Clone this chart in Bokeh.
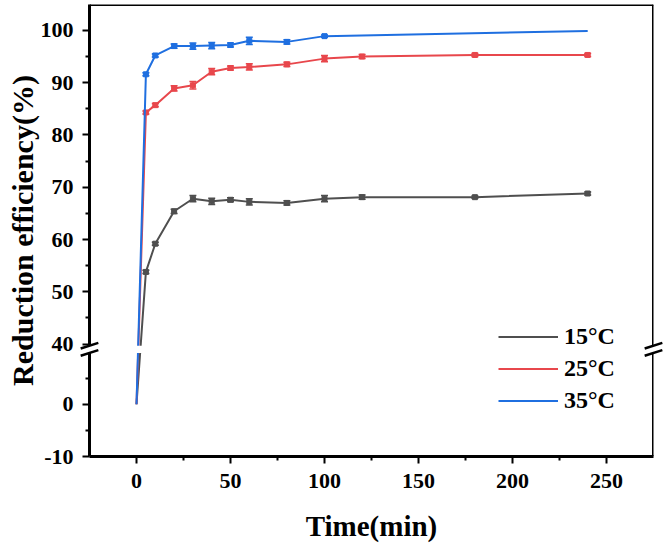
from bokeh.plotting import figure
from bokeh.models import (FixedTicker, Legend, LegendItem, Span,
                          ColumnDataSource, Whisker, Range1d, TeeHead)
from bokeh.embed import file_html
from bokeh.resources import INLINE

# ---------------- data ----------------
time = [0, 5, 10, 20, 30, 40, 50, 60, 80, 100, 120, 180, 240]
eff_15 = [0, 53.8, 59.2, 65.4, 67.8, 67.3, 67.6, 67.2, 67.0, 67.8, 68.1, 68.1, 68.8]
err_15 = [0, 0.3, 0.3, 0.4, 0.6, 0.6, 0.4, 0.6, 0.4, 0.6, 0.4, 0.2, 0.3]
eff_25 = [0, 84.3, 85.7, 88.9, 89.5, 92.1, 92.8, 93.0, 93.5, 94.6, 95.0, 95.3, 95.3]
err_25 = [0, 0.3, 0.3, 0.5, 0.7, 0.6, 0.4, 0.6, 0.4, 0.6, 0.4, 0.3, 0.3]
time_35 = [0, 5, 10, 20, 30, 40, 50, 60, 80, 100, 240]
eff_35 = [0, 91.6, 95.2, 97.0, 97.0, 97.1, 97.2, 98.0, 97.8, 98.9, 99.9]
err_35 = [0, 0.3, 0.3, 0.4, 0.6, 0.6, 0.4, 0.7, 0.4, 0.2, 0]

labels = ["15\u00b0C", "25\u00b0C", "35\u00b0C"]
colors = ["#4f4f4f", "#e8474c", "#1f6fe0"]

x_ticks = [0, 50, 100, 150, 200, 250]
x_minor = [25, 75, 125, 175, 225]
y_ticks = [-10, 0, 40, 50, 60, 70, 80, 90, 100]
y_minor = [-5, 5, 45, 55, 65, 75, 85, 95]

x_title = "Time(min)"
y_title = "Reduction efficiency(%)"

# broken y axis: lower segment [-10, 10], upper segment [40, ...]
LOW_TOP = 10
HIGH_BOTTOM = 40
GAP = 3  # display units between the segments


def disp(v):
    if v <= LOW_TOP:
        return 2 * v
    return 2 * (v - HIGH_BOTTOM) + 2 * LOW_TOP + GAP


FONT = "Liberation Serif"
X0, X1 = -25, 275
Y0, Y1 = -20, 152.9

p = figure(width=663, height=544, output_backend="svg", toolbar_location=None,
           x_range=Range1d(X0, X1), y_range=Range1d(Y0, Y1),
           min_border_left=89, min_border_right=10, min_border_top=4,
           min_border_bottom=85)
p.outline_line_color = None
p.grid.visible = False
p.background_fill_color = "white"
p.border_fill_color = "white"

items = []
series = [(time, eff_15, err_15), (time, eff_25, err_25), (time_35, eff_35, err_35)]
for (t, v, e), lab, c in zip(series, labels, colors):
    yd = [disp(a) for a in v]
    src = ColumnDataSource(dict(x=t, y=yd))
    r = p.line("x", "y", source=src, line_color=c, line_width=2)
    items.append(LegendItem(label=lab, renderers=[r]))
    mx = [a for a, b in zip(t, e) if b > 0]
    my = [disp(a) for a, b in zip(v, e) if b > 0]
    up = [disp(a + b) for a, b in zip(v, e) if b > 0]
    lo = [disp(a - b) for a, b in zip(v, e) if b > 0]
    esrc = ColumnDataSource(dict(x=mx, y=my, up=up, lo=lo))
    w = Whisker(base="x", upper="up", lower="lo", source=esrc, dimension="height",
                line_color=c, line_width=1.5,
                upper_head=TeeHead(size=7, line_color=c, line_width=1.5),
                lower_head=TeeHead(size=7, line_color=c, line_width=1.5))
    p.add_layout(w)
    p.scatter("x", "y", source=esrc, marker="square", size=5,
              fill_color=c, line_color=c)

# axes
for ax in (p.xaxis[0], p.yaxis[0]):
    ax.axis_line_width = 3
    ax.major_tick_line_width = 2
    ax.minor_tick_line_width = 2
    ax.major_tick_in = 0
    ax.major_tick_out = 7
    ax.minor_tick_in = 0
    ax.minor_tick_out = 4
    ax.major_label_text_font = FONT
    ax.major_label_text_font_style = "bold"
    ax.major_label_text_font_size = "22px"
    ax.major_label_text_color = "black"
    ax.axis_label_text_font = FONT
    ax.axis_label_text_font_style = "bold"
    ax.axis_label_text_color = "black"

p.xaxis.ticker = FixedTicker(ticks=x_ticks, minor_ticks=x_minor)
p.xaxis.major_label_standoff = 10
p.xaxis.axis_label = x_title
p.xaxis.axis_label_text_font_size = "29px"
p.xaxis.axis_label_standoff = 19

p.yaxis.ticker = FixedTicker(ticks=[disp(v) for v in y_ticks],
                             minor_ticks=[disp(v) for v in y_minor])
p.yaxis.major_label_overrides = {disp(v): str(v) for v in y_ticks}
p.yaxis.major_label_standoff = 9
p.yaxis.axis_label = y_title
p.yaxis.axis_label_text_font_size = "30px"
p.yaxis.axis_label_standoff = -1

# top and right frame lines
p.add_layout(Span(location=X1, dimension="height", line_color="black", line_width=3))
p.add_layout(Span(location=Y1, dimension="width", line_color="black", line_width=3))

# axis break decoration
BAND_LO, BAND_HI = 19.6, 22.4
p.quad(left=X0 - 2, right=X1 + 2, bottom=BAND_LO, top=BAND_HI, fill_color="white",
       line_color=None, level="overlay")
DX, DY = 4.7, 1.08
for xc in (X0, X1):
    p.segment(x0=[xc - DX, xc - DX], y0=[BAND_LO - DY, BAND_HI - DY],
              x1=[xc + DX, xc + DX], y1=[BAND_LO + DY, BAND_HI + DY],
              line_color="black", line_width=2.5, level="overlay")

legend = Legend(items=items, location=(409, 41), orientation="vertical",
                border_line_color=None, background_fill_alpha=0,
                padding=0, margin=0, spacing=3, glyph_width=60, glyph_height=29,
                label_standoff=6, label_text_font=FONT,
                label_text_font_style="bold", label_text_font_size="24px",
                label_text_color="black",
                label_text_baseline="middle", label_height=29)
p.add_layout(legend)

open("out.html", "w").write(file_html(p, INLINE))
